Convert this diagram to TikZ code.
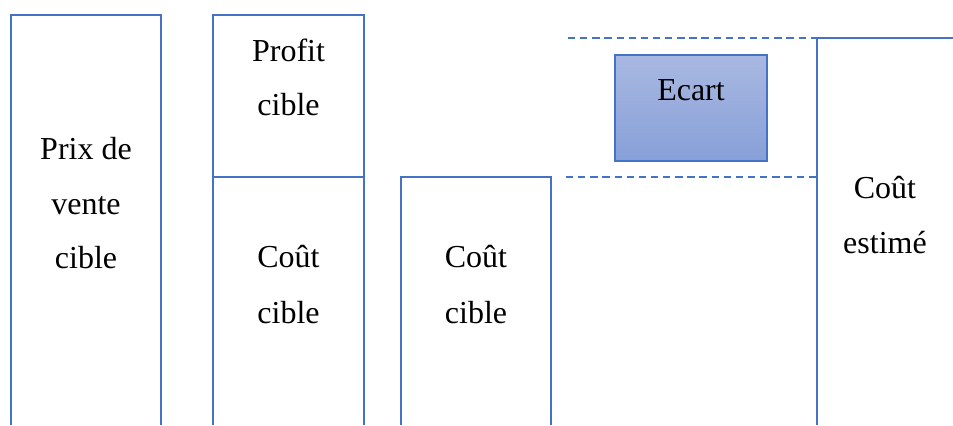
\documentclass[tikz,border=0pt]{standalone}
\usepackage{fontspec}
\setmainfont{Liberation Serif}
\definecolor{barblue}{HTML}{4472C4}
\definecolor{ecarttop}{HTML}{A9B8E1}
\definecolor{ecartbot}{HTML}{87A0D8}
\begin{document}
\begin{tikzpicture}[x=0.75pt,y=-0.75pt,
  bar/.style={draw=barblue,line width=1.8pt,line join=miter},
  guide/.style={draw=barblue,line width=1.1pt,dash pattern=on 5.5pt off 3.6pt},
  lbl/.style={anchor=base,inner sep=0pt,font=\fontsize{24}{29}\selectfont},
  gapbox/.style={draw=barblue,line width=0.8pt,top color=ecarttop,bottom color=ecartbot,
    minimum width=114pt,minimum height=79.5pt,inner sep=0pt}
]
\useasboundingbox (0,0) rectangle (953,425);

% corner points of the open columns
\coordinate (a1) at (11,425);  \coordinate (a2) at (11,15);
\coordinate (a3) at (161,15);  \coordinate (a4) at (161,425);
\coordinate (b1) at (213,425); \coordinate (b2) at (213,15);
\coordinate (b3) at (364,15);  \coordinate (b4) at (364,425);
\coordinate (bl) at (213,177); \coordinate (br) at (364,177);
\coordinate (c1) at (401,425); \coordinate (c2) at (401,177);
\coordinate (c3) at (551,177); \coordinate (c4) at (551,425);
\coordinate (d1) at (817,425); \coordinate (d2) at (817,38);
\coordinate (d3) at (953,38);
\coordinate (gt) at (568,38);  \coordinate (gb) at (566,177);
\coordinate (db) at (817,177);

% columns
\draw[bar] (a1) -- (a2) -- (a3) -- (a4);
\draw[bar] (b1) -- (b2) -- (b3) -- (b4);
\draw[bar] (bl) -- (br);
\draw[bar] (c1) -- (c2) -- (c3) -- (c4);
\draw[bar] (d1) -- (d2) -- (d3);

% guide lines marking the gap
\draw[guide] (gt) -- (d2);
\draw[guide] (gb) -- (db);

% gap box
\node[gapbox] (ecart) at (691,108) {};
\node[lbl] (ecartlbl) at (691,100) {Ecart};

% labels
\node[lbl] (pv1) at (86,159) {Prix de};
\node[lbl] (pv2) at (86,214) {vente};
\node[lbl] (pv3) at (86,268) {cible};

\node[lbl] (pc1) at (288.5,61) {Profit};
\node[lbl] (pc2) at (288.5,115) {cible};

\node[lbl] (cc1) at (288.5,267) {Coût};
\node[lbl] (cc2) at (288.5,323) {cible};

\node[lbl] (ct1) at (476,267) {Coût};
\node[lbl] (ct2) at (476,323) {cible};

\node[lbl] (ce1) at (885,198) {Coût};
\node[lbl] (ce2) at (885,253) {estimé};
\end{tikzpicture}
\end{document}
